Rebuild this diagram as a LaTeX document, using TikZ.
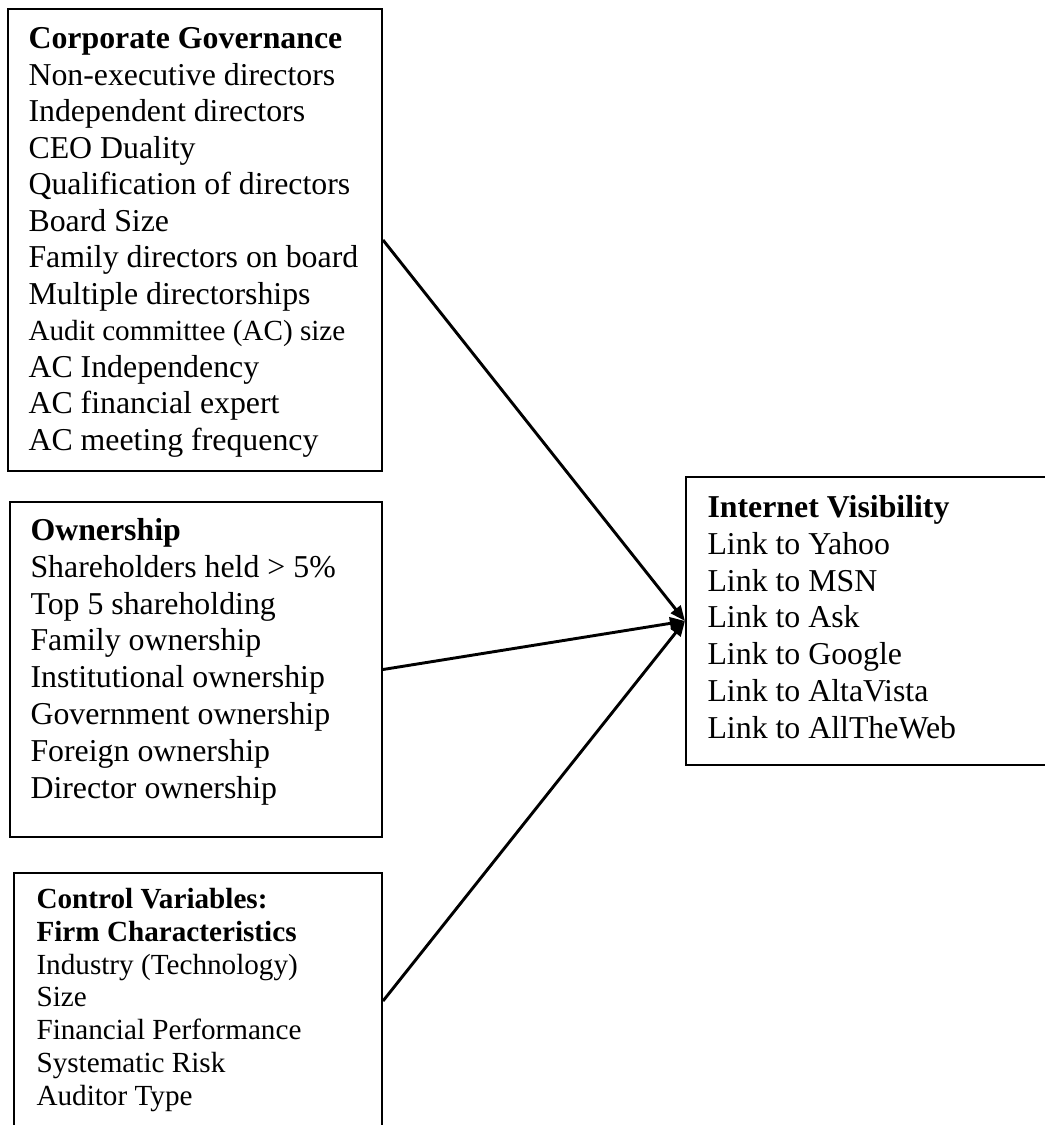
\documentclass[tikz,border=0pt]{standalone}
\usepackage{fontspec}
\setmainfont{Liberation Serif}
\usepackage{tikz}
\usetikzlibrary{positioning,arrows.meta}

\newlength{\px}
\setlength{\px}{0.377pt}

\begin{document}
\begin{tikzpicture}[x=0.377pt, y=-0.377pt, >={Triangle[length=5.7pt,width=4.6pt]},
		varbox/.style 2 args={draw, line width=0.75pt, anchor=north west, inner sep=0pt, minimum width=#1\px, minimum height=#2\px},
		vartext/.style 2 args={anchor=base west, align=left, inner sep=0pt, font=\fontsize{#1}{#2}\selectfont},
		link/.style={->, line width=1.1pt}]
		\useasboundingbox (0,0) rectangle (1044,1125);
		
		% frames
		\node[varbox={374}{462}] (gov) at (7,8) {};
		\node[varbox={372}{335}] (own) at (9,501) {};
		\node[varbox={368}{256}] (ctrl) at (13,872) {};
		\node[varbox={365}{288}] (vis) at (685,476) {};
		
		% contents (anchored at the baseline of the last line)
		\node[vartext={12}{13.76pt}] (govtext) at (28,450) {\textbf{Corporate Governance}\\
			Non-executive directors\\
			Independent directors\\
			CEO Duality\\
			Qualification of directors\\
			Board Size\\
			Family directors on board\\
			Multiple directorships\\
			{\fontsize{11}{13.76pt}\selectfont Audit committee (AC) size}\\
			AC Independency\\
			AC financial expert\\
			AC meeting frequency};
		\node[vartext={12}{13.87pt}] (owntext) at (30,798) {\textbf{Ownership}\\
			Shareholders held > 5\%\\
			Top 5 shareholding\\
			Family ownership\\
			Institutional ownership\\
			Government ownership\\
			Foreign ownership\\
			Director ownership};
		\node[vartext={11}{12.33pt}] (ctrltext) at (36,1105) {\textbf{Control Variables:}\\
			\textbf{Firm Characteristics}\\
			Industry (Technology)\\
			Size\\
			Financial Performance\\
			Systematic Risk\\
			Auditor Type};
		\node[vartext={12}{13.84pt}] (vistext) at (707,738) {\textbf{Internet Visibility}\\
			Link to Yahoo\\
			Link to MSN\\
			Link to Ask\\
			Link to Google\\
			Link to AltaVista\\
			Link to AllTheWeb};
		
		\draw[link] (gov.east) -- (vis.west);
		\draw[link] (own.east) -- (vis.west);
		\draw[link] (ctrl.east) -- (vis.west);
	\end{tikzpicture}
\end{document}
